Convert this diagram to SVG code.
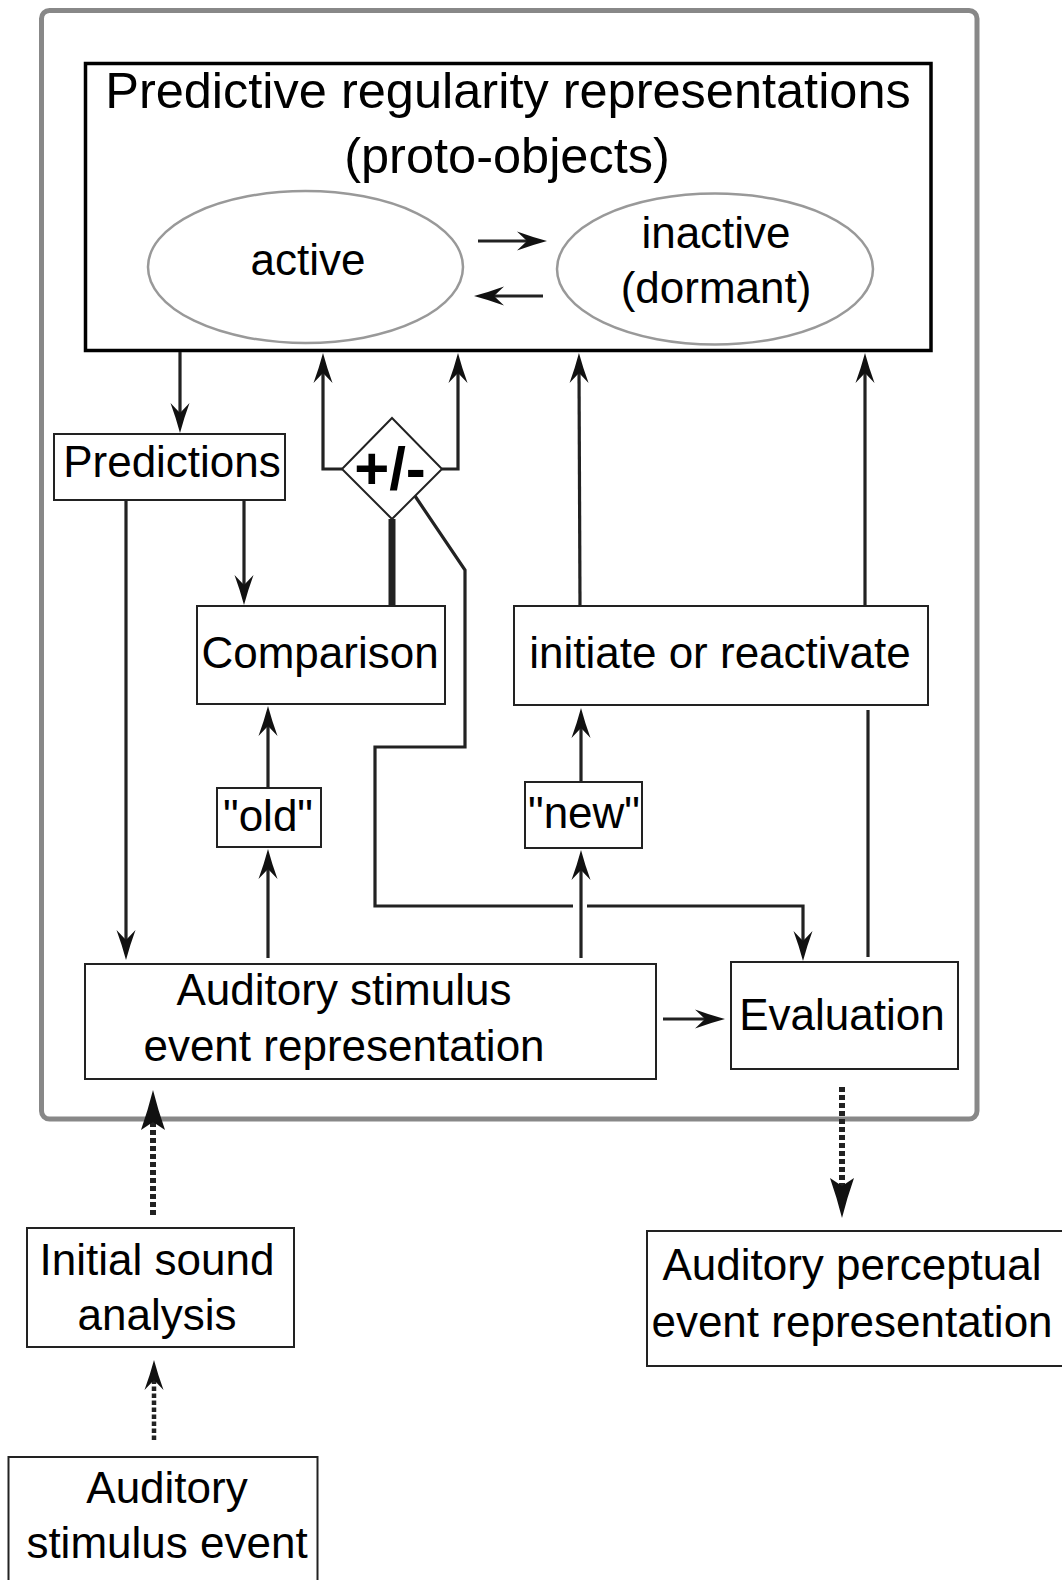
<svg xmlns="http://www.w3.org/2000/svg" width="1062" height="1580" viewBox="0 0 1062 1580">
<style>
text{font-family:"Liberation Sans",Arial,sans-serif;font-size:44px;fill:#000;text-anchor:middle}
.title{font-size:50.5px}
.pm{font-size:60px;font-weight:bold}
.box{fill:#fff;stroke:#222;stroke-width:2}
.ell{fill:#fff;stroke:#999;stroke-width:2.5}
.c{fill:none;stroke:#222;stroke-width:3.2}
.d{fill:none;stroke:#222;stroke-width:6;stroke-dasharray:5 3}
.d2{fill:none;stroke:#222;stroke-width:4.5;stroke-dasharray:4.5 2.5}
</style>
<defs>
<marker id="ah" viewBox="-34 -12 36 24" refX="-14" refY="0" markerWidth="36" markerHeight="24" markerUnits="userSpaceOnUse" orient="auto">
<path d="M0,0 Q-15,-4 -30,-9.5 L-20,0 L-30,9.5 Q-15,4 0,0 Z" fill="#111"/>
</marker>
<marker id="ahb" viewBox="-44 -14 46 28" refX="-26" refY="0" markerWidth="46" markerHeight="28" markerUnits="userSpaceOnUse" orient="auto">
<path d="M0,0 Q-20,-5 -40,-12 L-32,0 L-40,12 Q-20,5 0,0 Z" fill="#111"/>
</marker>
</defs>
<rect x="41.5" y="10.5" width="935.5" height="1108.5" rx="8" fill="none" stroke="#888" stroke-width="5"/>
<g id="top">
<rect x="85.5" y="63.5" width="845.5" height="287" fill="#fff" stroke="#000" stroke-width="3.5"/>
<text class="title" x="508" y="108">Predictive regularity representations</text>
<text class="title" x="507" y="173">(proto-objects)</text>
</g>
<g id="active">
<ellipse class="ell" cx="305.5" cy="267" rx="157.5" ry="76"/>
<text x="308" y="275">active</text>
</g>
<g id="inactive">
<ellipse class="ell" cx="715" cy="269" rx="158" ry="75.5"/>
<text x="716" y="248">inactive</text>
<text x="716" y="303">(dormant)</text>
</g>
<g id="predictions">
<rect class="box" x="54" y="434" width="231" height="66"/>
<text x="172" y="477">Predictions</text>
</g>
<g id="pm">
<polygon points="392,418 442,469 392,519 342,469" fill="#fff" stroke="#222" stroke-width="2"/>
<text class="pm" x="390" y="489">+/-</text>
</g>
<g id="comparison">
<rect class="box" x="197" y="606" width="248" height="98"/>
<text x="320" y="668">Comparison</text>
</g>
<g id="initiate">
<rect class="box" x="514" y="606" width="414" height="99"/>
<text x="720" y="668">initiate or reactivate</text>
</g>
<g id="old">
<rect class="box" x="217" y="788" width="104" height="59"/>
<text x="268" y="831">"old"</text>
</g>
<g id="new">
<rect class="box" x="525" y="782" width="117" height="66"/>
<text x="584" y="828">"new"</text>
</g>
<g id="aud">
<rect class="box" x="85" y="964" width="571" height="115"/>
<text x="344" y="1005">Auditory stimulus</text>
<text x="344" y="1061">event representation</text>
</g>
<g id="eval">
<rect class="box" x="731" y="962" width="227" height="107"/>
<text x="842" y="1030">Evaluation</text>
</g>
<g id="initial">
<rect class="box" x="27" y="1228" width="267" height="119"/>
<text x="157" y="1275">Initial sound</text>
<text x="157" y="1330">analysis</text>
</g>
<g id="stim">
<rect class="box" x="8.5" y="1457" width="309" height="140"/>
<text x="167" y="1503">Auditory</text>
<text x="167" y="1558">stimulus event</text>
</g>
<g id="perc">
<rect class="box" x="647" y="1231" width="420" height="135"/>
<text x="852" y="1280">Auditory perceptual</text>
<text x="852" y="1337">event representation</text>
</g>
<g id="connectors">
<path class="c" d="M478,241 H533" marker-end="url(#ah)"/>
<path class="c" d="M543,296 H488" marker-end="url(#ah)"/>
<path class="c" d="M180,352 V419" marker-end="url(#ah)"/>
<path class="c" d="M244,500 V591" marker-end="url(#ah)"/>
<path class="c" d="M126,500 V946" marker-end="url(#ah)"/>
<path class="c" d="M342,469 H323 V367" marker-end="url(#ah)"/>
<path class="c" d="M442,469 H458 V367" marker-end="url(#ah)"/>
<path fill="none" stroke="#222" stroke-width="7" d="M392,519 V606"/>
<path class="c" d="M415,496 L465,570 V747 H375 V906 H573"/>
<path class="c" d="M587,906 H803 V947" marker-end="url(#ah)"/>
<path class="c" d="M268,788 V720" marker-end="url(#ah)"/>
<path class="c" d="M268,958 V863" marker-end="url(#ah)"/>
<path class="c" d="M581,958 V864" marker-end="url(#ah)"/>
<path class="c" d="M581,781 V722" marker-end="url(#ah)"/>
<path class="c" d="M580,606 L579,367" marker-end="url(#ah)"/>
<path class="c" d="M865,606 V367" marker-end="url(#ah)"/>
<path class="c" d="M868,957 V710"/>
<path class="c" d="M663,1019 H711" marker-end="url(#ah)"/>
<path class="d" d="M153,1215 V1116" marker-end="url(#ahb)"/>
<path class="d2" d="M154,1440 V1374" marker-end="url(#ah)"/>
<path class="d" d="M842,1087 V1192" marker-end="url(#ahb)"/>
</g>
</svg>
